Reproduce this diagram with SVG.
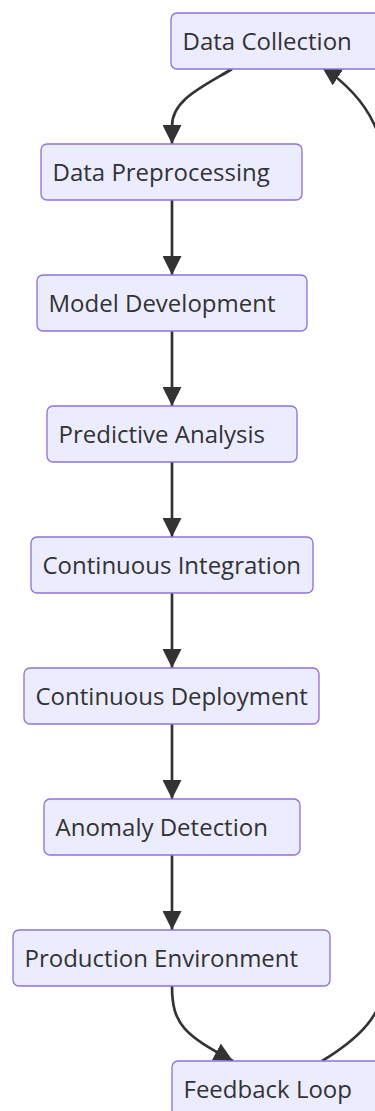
<svg xmlns="http://www.w3.org/2000/svg" width="375" height="1111" viewBox="0 0 375 1111">
  <style>
    .node rect { fill: #ECECFF; stroke: #9370DB; stroke-width: 1.33; }
    .node text { fill: #333333; font-family: "Open Sans", "Noto Sans", "Liberation Sans", sans-serif; font-size: 24px; }
    .edge { fill: none; stroke: #333333; stroke-width: 2.67; }
  </style>
  <defs>
    <marker id="arrow" viewBox="0 0 10 10" refX="10" refY="5" markerUnits="userSpaceOnUse" markerWidth="19" markerHeight="19" orient="auto">
      <path d="M0,0 L10,5 L0,10 z" fill="#333333"/>
    </marker>
  </defs>
  <rect width="375" height="1111" fill="#ffffff"/>

  <!-- connectors (drawn beneath the nodes) -->
  <g id="connectors">
    <path class="edge" d="M232,69 C202,87 172,100 172,126 L172,144" marker-end="url(#arrow)"/>
    <path class="edge" d="M172,200 L172,275" marker-end="url(#arrow)"/>
    <path class="edge" d="M172,331 L172,406" marker-end="url(#arrow)"/>
    <path class="edge" d="M172,462 L172,537" marker-end="url(#arrow)"/>
    <path class="edge" d="M172,593 L172,668" marker-end="url(#arrow)"/>
    <path class="edge" d="M172,724 L172,799" marker-end="url(#arrow)"/>
    <path class="edge" d="M172,855 L172,930" marker-end="url(#arrow)"/>
    <path class="edge" d="M172,986 C172,1025 185,1035 233,1061" marker-end="url(#arrow)"/>
    <path class="edge" d="M322,1061 C365,1035 388,1010 388,960 L388,200 C388,140 372,100 322,67" marker-end="url(#arrow)"/>
  </g>

  <!-- nodes -->
  <g id="data-collection" class="node">
    <rect x="171" y="13" width="212" height="56" rx="6" ry="6"/>
    <text x="182.5" y="49.5">Data Collection</text>
  </g>
  <g id="data-preprocessing" class="node">
    <rect x="41" y="144" width="261" height="56" rx="6" ry="6"/>
    <text x="52.5" y="180.5">Data Preprocessing</text>
  </g>
  <g id="model-development" class="node">
    <rect x="37" y="275" width="270" height="56" rx="6" ry="6"/>
    <text x="48.5" y="311.5">Model Development</text>
  </g>
  <g id="predictive-analysis" class="node">
    <rect x="47" y="406" width="250" height="56" rx="6" ry="6"/>
    <text x="58.5" y="442.5">Predictive Analysis</text>
  </g>
  <g id="continuous-integration" class="node">
    <rect x="31" y="537" width="282" height="56" rx="6" ry="6"/>
    <text x="42.5" y="573.5">Continuous Integration</text>
  </g>
  <g id="continuous-deployment" class="node">
    <rect x="24" y="668" width="295" height="56" rx="6" ry="6"/>
    <text x="35.5" y="704.5">Continuous Deployment</text>
  </g>
  <g id="anomaly-detection" class="node">
    <rect x="44" y="799" width="256" height="56" rx="6" ry="6"/>
    <text x="55.5" y="835.5">Anomaly Detection</text>
  </g>
  <g id="production-environment" class="node">
    <rect x="13" y="930" width="317" height="56" rx="6" ry="6"/>
    <text x="24.5" y="966.5">Production Environment</text>
  </g>
  <g id="feedback-loop" class="node">
    <rect x="172" y="1061" width="212" height="56" rx="6" ry="6"/>
    <text x="183.5" y="1097.5">Feedback Loop</text>
  </g>
</svg>
